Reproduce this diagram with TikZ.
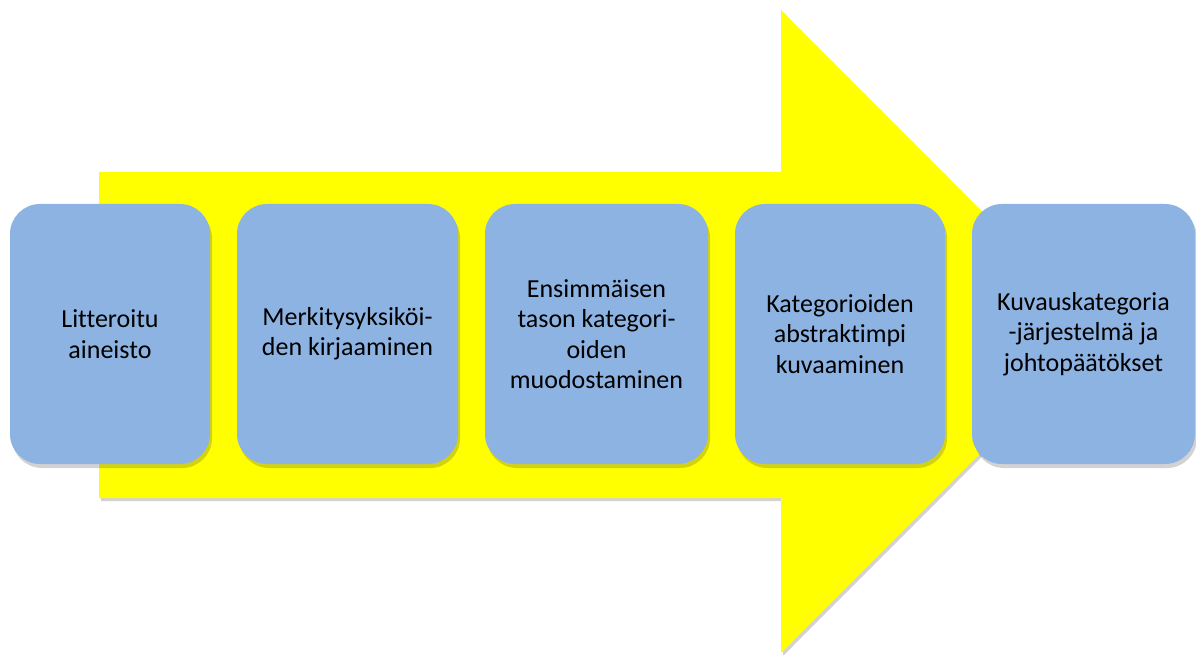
\documentclass[tikz,border=0pt]{standalone}
\usepackage{fontspec}
\setmainfont[Ligatures=NoCommon]{Carlito}
\usetikzlibrary{shadows}
\definecolor{boxblue}{HTML}{8DB3E2}
\definecolor{arrowyellow}{HTML}{FFFF00}
\tikzset{
  stagebox/.style={draw=none, fill=boxblue, rounded corners=30pt,
    minimum height=260pt, align=center, inner sep=0pt,
    font=\fontsize{26}{30.3}\selectfont,
    drop shadow={shadow xshift=2pt, shadow yshift=-4pt, opacity=0.25, fill=black!70}},
  bigarrow/.style={fill=arrowyellow, draw=none,
    drop shadow={shadow xshift=2pt, shadow yshift=-3pt, opacity=0.25, fill=black!70}}
}
\begin{document}
\begin{tikzpicture}[x=1pt,y=-1pt]
\useasboundingbox (0,0) rectangle (1196,655);
\path[bigarrow] (99,172) -- (781,172) -- (781,10) -- (1102,331.5) -- (781,653) -- (781,498) -- (99,498) -- cycle;
\node[stagebox, minimum width=200pt] (s1) at (110,334) {Litteroitu\\aineisto};
\node[stagebox, minimum width=221pt] (s2) at (347.5,334) {Merkitysyksiköi-\\den kirjaaminen};
\node[stagebox, minimum width=223pt] (s3) at (596.5,334) {Ensimmäisen\\tason kategori-\\oiden\\muodostaminen};
\node[stagebox, minimum width=210pt] (s4) at (840,334) {Kategorioiden\\abstraktimpi\\kuvaaminen};
\node[stagebox, minimum width=223pt] (s5) at (1083.5,334) {Kuvauskategoria\\-järjestelmä ja\\johtopäätökset};
\end{tikzpicture}
\end{document}
